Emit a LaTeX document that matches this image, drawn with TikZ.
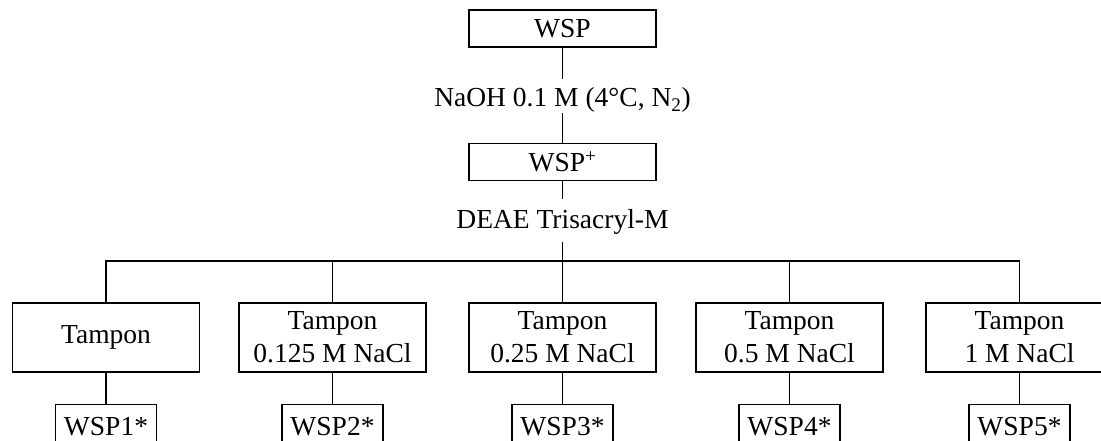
\documentclass[tikz,border=0pt]{standalone}
\usepackage{fontspec}
\setmainfont{Liberation Serif}
\begin{document}
\begin{tikzpicture}[x=1pt,y=-1pt,
  every node/.style={font=\fontsize{27.5}{33}\selectfont},
  box/.style={draw,line width=1.1pt,inner sep=0pt,align=center},
  topbox/.style={box,minimum width=187pt,minimum height=37pt},
  midbox/.style={box,minimum width=187pt,minimum height=69pt},
  resbox/.style={box,minimum width=101pt,minimum height=46pt},
  lbl/.style={inner sep=0pt,anchor=base},
  conn/.style={line width=1.1pt}]
\useasboundingbox (0,0) rectangle (1101,441);
\clip (0,0) rectangle (1101,441);
% top chain
\node[topbox] (wsp) at (562.5,28.5) {WSP};
\node[lbl,text height=28pt,text depth=6pt] (naoh) at (562.5,107) {NaOH 0.1 M (4°C, N\textsubscript{2})};
\node[topbox] (wspp) at (562.5,162) {WSP\textsuperscript{+}};
\node[lbl,text height=29pt,text depth=14pt] (deae) at (562.5,228) {DEAE Trisacryl-M};
\coordinate (bus) at (562.5,261);
% fractions
\node[midbox] (b1) at (106,337.5) {Tampon};
\node[midbox] (b2) at (332.5,337.5) {Tampon\\0.125 M NaCl};
\node[midbox] (b3) at (562.5,337.5) {Tampon\\0.25 M NaCl};
\node[midbox] (b4) at (789.5,337.5) {Tampon\\0.5 M NaCl};
\node[midbox] (b5) at (1019.5,337.5) {Tampon\\1 M NaCl};
% results
\foreach \i in {1,...,5}{
  \path (b\i.south) ++(0,31) node[resbox,anchor=north] (r\i) {WSP\i*};
}
% connectors
\draw[conn] (wsp.south) -- (naoh.north);
\draw[conn] (naoh.south) -- (wspp.north);
\draw[conn] (wspp.south) -- (deae.north);
\draw[conn] (deae.south) -- (bus);
\draw[conn] (b1.north) -- (b1.north |- bus) -- (b5.north |- bus) -- (b5.north);
\foreach \i in {2,3,4}{\draw[conn] (b\i.north) -- (b\i.north |- bus);}
\foreach \i in {1,...,5}{\draw[conn] (b\i.south) -- (r\i.north);}
\end{tikzpicture}
\end{document}
